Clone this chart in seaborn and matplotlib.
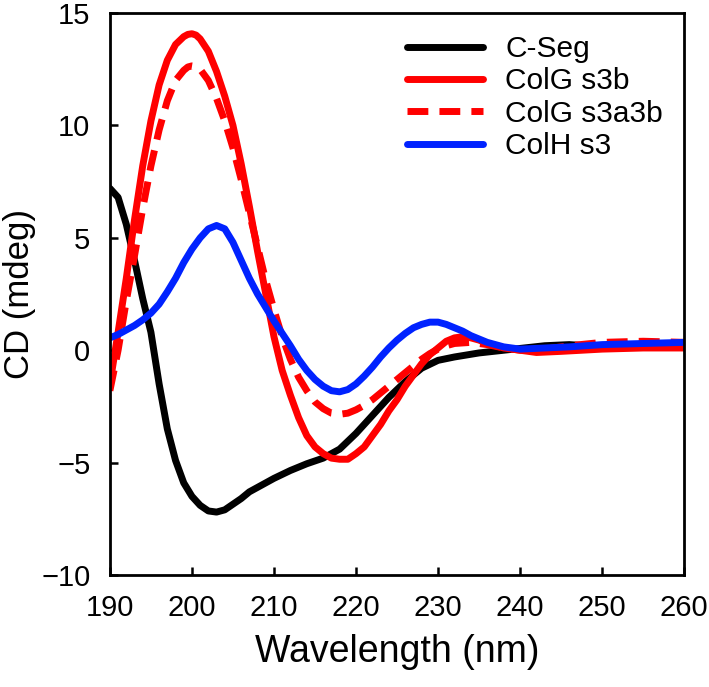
import numpy as np
import pandas as pd
import seaborn as sns
import matplotlib.pyplot as plt

# wavelength grids (nm) and CD values (mdeg)
wl_cseg = [190, 191, 192, 193, 194, 195, 196, 197, 198, 199, 200, 201, 202, 203, 204, 205,
           206, 207, 208, 209, 210, 212, 214, 216, 218, 220, 222, 224, 226, 228, 230, 232,
           235, 238, 240, 243, 246, 250, 255, 260]
cd_cseg = [7.2, 6.8, 5.6, 4.0, 2.3, 0.8, -1.5, -3.5, -4.9, -5.9, -6.5, -6.9, -7.15, -7.2, -7.1, -6.85,
           -6.6, -6.3, -6.1, -5.9, -5.7, -5.35, -5.05, -4.8, -4.4, -3.7, -2.9, -2.1, -1.4, -0.8, -0.45, -0.3,
           -0.12, 0.0, 0.08, 0.2, 0.25, 0.15, 0.15, 0.2]

wl_s3b = [190, 191, 192, 193, 194, 195, 196, 197, 198, 199, 199.5, 200, 200.5, 201, 202, 203, 204, 205,
          206, 207, 208, 209, 210, 211, 212, 213, 214, 215, 216, 217, 218, 219, 220, 221,
          222, 223, 224, 225, 226, 227, 228, 229, 230, 231, 232, 233, 234, 235, 236, 238,
          240, 242, 245, 250, 255, 260]
cd_s3b = [-1.5, 0.8, 3.2, 5.8, 8.2, 10.2, 11.8, 12.9, 13.6, 13.95, 14.05, 14.08, 14.02, 13.85, 13.3, 12.4, 11.3, 10.0,
          8.3, 6.4, 4.4, 2.5, 0.6, -0.9, -2.0, -3.0, -3.8, -4.3, -4.6, -4.8, -4.85, -4.85, -4.6, -4.3,
          -3.8, -3.3, -2.7, -2.2, -1.6, -1.1, -0.6, -0.2, 0.1, 0.4, 0.55, 0.6, 0.55, 0.45, 0.3, 0.1,
          0.0, -0.1, -0.05, 0.05, 0.1, 0.1]

wl_s3a3b = [190, 191, 192, 193, 194, 195, 196, 197, 198, 199, 199.5, 200, 200.5, 201, 202, 203, 204, 205,
            206, 207, 208, 209, 210, 211, 212, 213, 214, 215, 216, 217, 218, 219, 220, 221,
            222, 223, 224, 225, 226, 227, 228, 229, 230, 231, 232, 234, 236, 238, 240, 243,
            246, 250, 255, 260]
cd_s3a3b = [-1.8, 0.0, 2.2, 4.2, 6.3, 8.2, 9.8, 11.1, 12.0, 12.45, 12.6, 12.65, 12.62, 12.5, 12.0, 11.2, 10.2, 9.0,
            7.6, 6.1, 4.6, 3.1, 1.8, 0.6, -0.4, -1.2, -1.8, -2.3, -2.6, -2.8, -2.85, -2.8, -2.65, -2.45,
            -2.2, -1.9, -1.6, -1.3, -1.0, -0.7, -0.4, -0.15, 0.05, 0.2, 0.3, 0.35, 0.25, 0.1, 0.0, 0.05,
            0.2, 0.35, 0.4, 0.35]

wl_colh = [190, 191, 192, 193, 194, 195, 196, 197, 198, 199, 200, 201, 202, 203, 204, 205,
           206, 207, 208, 209, 210, 211, 212, 213, 214, 215, 216, 217, 218, 219, 220, 221,
           222, 223, 224, 225, 226, 227, 228, 229, 230, 231, 232, 233, 234, 235, 236, 238,
           240, 243, 246, 250, 255, 260]
cd_colh = [0.55, 0.7, 0.9, 1.1, 1.35, 1.65, 2.05, 2.6, 3.2, 3.9, 4.5, 5.0, 5.4, 5.55, 5.4, 4.8,
           4.0, 3.2, 2.5, 1.9, 1.3, 0.75, 0.2, -0.4, -0.9, -1.3, -1.6, -1.8, -1.85, -1.75, -1.5, -1.15,
           -0.75, -0.3, 0.1, 0.45, 0.75, 1.0, 1.15, 1.25, 1.25, 1.15, 1.0, 0.85, 0.65, 0.5, 0.35, 0.15,
           0.05, 0.1, 0.15, 0.25, 0.3, 0.35]

series = [
    ("C-Seg", wl_cseg, cd_cseg, "black", "-"),
    ("ColG s3b", wl_s3b, cd_s3b, "#ff0000", "-"),
    ("ColG s3a3b", wl_s3a3b, cd_s3a3b, "#ff0000", "--"),
    ("ColH s3", wl_colh, cd_colh, "#0022ff", "-"),
]

sns.set_style("ticks")
plt.rcParams['font.family'] = ['Liberation Sans', 'DejaVu Sans']
plt.rcParams.update({'text.color': 'black', 'axes.labelcolor': 'black'})

fig = plt.figure(figsize=(7.09, 6.87), dpi=100)
ax = fig.add_axes([0.155, 0.163, 0.81, 0.818])

for name, wl, cd, color, ls in series:
    df = pd.DataFrame({"wl": wl, "cd": cd})
    sns.lineplot(data=df, x="wl", y="cd", ax=ax, color=color, lw=5, label=name)
    ln = ax.get_lines()[-1]
    ln.set_solid_joinstyle("round")
    ln.set_dash_joinstyle("round")
    if ls == "--":
        ln.set_dashes([3, 1.6])

ax.set_xlim(190, 260)
ax.set_ylim(-10, 15)
ax.set_xticks(np.arange(190, 261, 10))
ax.set_yticks(np.arange(-10, 16, 5))
ax.set_yticklabels([str(v).replace("-", "\u2212") for v in range(-10, 16, 5)])
ax.tick_params(axis="both", direction="in", length=6, width=1.8, color="black",
               labelcolor="black", labelsize=21, pad=14)
for sp in ax.spines.values():
    sp.set_linewidth(2)
    sp.set_color("black")
ax.set_xlabel("Wavelength (nm)", fontsize=27, labelpad=8)
ax.set_ylabel("CD (mdeg)", fontsize=25, labelpad=4)

leg = ax.legend(loc="upper left", bbox_to_anchor=(0.517, 0.961), frameon=False, fontsize=21.5,
                handlelength=2.55, labelspacing=0.15, borderaxespad=0, borderpad=0,
                handletextpad=0.74)
for h in leg.get_lines():
    h.set_linewidth(5)

fig.savefig("out.png", dpi=100)
